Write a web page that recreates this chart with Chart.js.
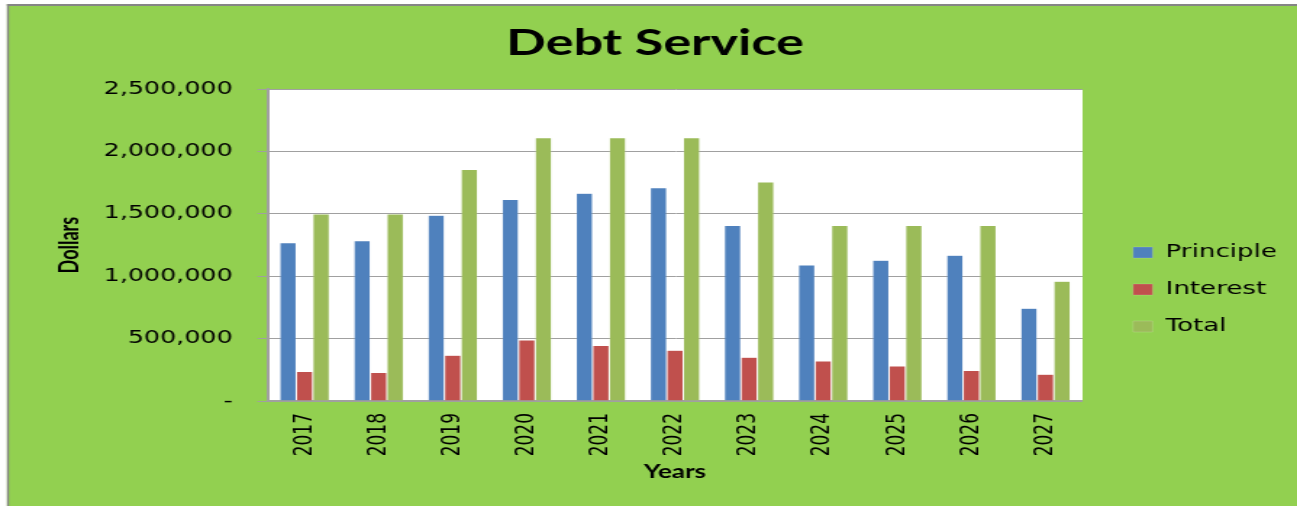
<!DOCTYPE html>
<html><head><meta charset="utf-8">
<script src="https://cdn.jsdelivr.net/npm/chart.js@4/dist/chart.umd.min.js"></script>
<style>
html,body{margin:0;padding:0;background:#fff;overflow:hidden;}
#wrap{width:895px;height:506px;transform:scaleX(1.4492);transform-origin:0 0;}
canvas{display:block;}
</style></head><body>
<div id="wrap"><canvas id="c" width="895" height="506"></canvas></div>
<script>
const years = ['2017','2018','2019','2020','2021','2022','2023','2024','2025','2026','2027'];
const principle = [1268000,1284000,1490000,1616000,1665000,1709000,1408000,1091000,1129000,1169000,744000];
const interest = [236000,228000,367000,490000,445000,407000,351000,321000,281000,244000,214000];
const total = [1500000,1500000,1857000,2111000,2110000,2111000,1755000,1408000,1408000,1408000,961000];
const yTicks = [0,500000,1000000,1500000,2000000,2500000];
const seriesNames = ['Principle','Interest','Total'];
const seriesColors = ['#4F81BD','#C0504D','#9BBB59'];

const S = 1297/895;
const TICK_FONT = {family:'DejaVu Sans', size:17};
const LEG_FONT = {family:'DejaVu Sans', size:18};
const LEG_PAD = 19, BOXW = 13.5, BOXH = 11;
const PLOT_RIGHT = 1082.5/S, PLOT_LEFT = 267.5/S;
const TITLE_CX = 655/S;

// legend width estimate to place plot right edge
const mctx = document.createElement('canvas').getContext('2d');
mctx.font = '18px "DejaVu Sans"';
const maxTextW = Math.max(...seriesNames.map(n=>mctx.measureText(n).width));
const legendW = LEG_PAD + BOXW + LEG_FONT.size/2 + maxTextW + 10;
const padRight = 895 - PLOT_RIGHT - legendW;

const bgPlugin = {
  id:'bg',
  afterLayout(chart){
    const lg = chart.legend;
    if(lg){
      const w = lg.width, h = lg.height;
      lg.left = 1133/S - LEG_PAD; lg.right = lg.left + w;
      lg.top = 252.5 - 9 - LEG_PAD; lg.bottom = lg.top + h;
    }
    const tb = chart.titleBlock;
    if(tb){
      const half = (tb.right - tb.left)/2;
      tb.left = TITLE_CX - half; tb.right = TITLE_CX + half;
    }
  },
  beforeDraw(chart){
    const ctx = chart.ctx, a = chart.chartArea;
    ctx.save();
    ctx.fillStyle = '#fff'; ctx.fillRect(0,0,chart.width,chart.height);
    const bx = 7/S, by = 4;
    ctx.fillStyle = '#92D050'; ctx.fillRect(bx,by,chart.width,chart.height);
    ctx.fillStyle = '#858585';
    ctx.fillRect(bx,by,2/S,chart.height);
    ctx.fillRect(bx,by,chart.width,2);
    ctx.fillStyle = '#fff'; ctx.fillRect(a.left,a.top,a.right-a.left,a.bottom-a.top);
    ctx.restore();
  }
};

const datasets = [principle, interest, total].map((d,i)=>({
  label: seriesNames[i],
  data: d,
  backgroundColor: seriesColors[i],
  borderColor: 'rgba(255,255,255,0.3)',
  borderWidth: 0.5,
  categoryPercentage: 0.67,
  barPercentage: 1.0
}));

new Chart(document.getElementById('c'), {
  type:'bar',
  data:{labels:years, datasets},
  plugins:[bgPlugin],
  options:{
    responsive:false,
    animation:false,
    devicePixelRatio:1,
    layout:{padding:{left:0,top:0,bottom:0,right:padRight}},
    plugins:{
      tooltip:{enabled:false},
      title:{display:true,text:'Debt Service',color:'#000',
        font:{family:'Lato',size:36,weight:'bold'},padding:{top:22,bottom:24}},
      legend:{position:'right',align:'start',
        labels:{color:'#000',font:LEG_FONT,boxWidth:BOXW,boxHeight:BOXH,padding:LEG_PAD}}
    },
    scales:{
      x:{
        grid:{display:false,drawTicks:false},
        border:{display:true,color:'#a0a0a0',width:2},
        ticks:{color:'#000',font:TICK_FONT,minRotation:90,maxRotation:90,padding:12,autoSkip:false},
        title:{display:true,text:'Years',color:'#000',font:{family:'Lato',size:18,weight:'bold'},padding:{top:0,bottom:23}},
        afterFit(s){ s.height = 105; }
      },
      y:{
        min:0,max:2500000,
        afterBuildTicks(s){ s.ticks = yTicks.map(v=>({value:v})); },
        ticks:{color:'#000',font:{family:'DejaVu Sans',size:17.5},padding:17,
          callback:(v)=> v===0 ? '-' : Number(v).toLocaleString('en-US')},
        grid:{color:'#a0a0a0',lineWidth:1,tickLength:7,drawTicks:true},
        border:{display:true,color:'#a0a0a0',width:2},
        title:{display:true,text:'Dollars',color:'#000',font:{family:'Lato',size:18,weight:'bold'},padding:{top:37,bottom:0}},
        afterFit(s){ s.width = PLOT_LEFT; }
      }
    }
  }
});
</script>
</body></html>
